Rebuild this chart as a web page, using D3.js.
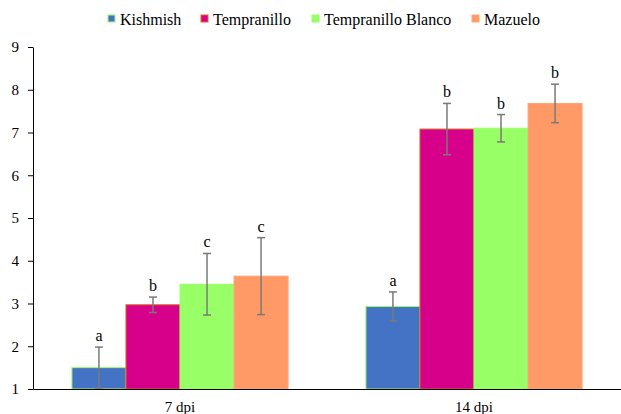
<!DOCTYPE html>
<html>
<head>
<meta charset="utf-8">
<script src="https://cdn.jsdelivr.net/npm/d3@7"></script>
<style>
  html, body { margin: 0; padding: 0; background: #fff; }
  svg { display: block; }
</style>
</head>
<body>
<svg id="chart" width="621" height="414"></svg>
<script>
// Time points and cultivars
const categories = ["7 dpi", "14 dpi"];
const series = ["Kishmish", "Tempranillo", "Tempranillo Blanco", "Mazuelo"];
// Mean values per cultivar, one entry per time point
const kishmish = [1.5, 2.93];
const tempranillo = [2.97, 7.08];
const tempranilloBlanco = [3.45, 7.1];
const mazuelo = [3.64, 7.68];
// Error bar half-widths
const kishmishErr = [0.48, 0.34];
const tempranilloErr = [0.18, 0.6];
const tempranilloBlancoErr = [0.72, 0.32];
const mazueloErr = [0.9, 0.45];
// Significance letters
const kishmishLetters = ["a", "a"];
const tempranilloLetters = ["b", "b"];
const tempranilloBlancoLetters = ["c", "b"];
const mazueloLetters = ["c", "b"];
const yTicks = [1, 2, 3, 4, 5, 6, 7, 8, 9];

const fills = ["#4472c4", "#d6008b", "#99ff66", "#ff9966"];
const strokes = ["#99ff66", "#e0661e", "#99ff66", "#ffa57a"];
const serif = "'Liberation Serif', 'Times New Roman', serif";

const values = [kishmish, tempranillo, tempranilloBlanco, mazuelo];
const errs = [kishmishErr, tempranilloErr, tempranilloBlancoErr, mazueloErr];
const letters = [kishmishLetters, tempranilloLetters, tempranilloBlancoLetters, mazueloLetters];

const rows = [];
categories.forEach((c, ci) => {
  series.forEach((s, si) => {
    rows.push({cat: c, ser: s, si, v: values[si][ci], e: errs[si][ci], l: letters[si][ci]});
  });
});

const svg = d3.select("#chart");
const margin = {left: 33, right: 0, top: 47, bottom: 25};
const W = 621, H = 414;

const x0 = d3.scaleBand().domain(categories).range([margin.left, W - margin.right]).paddingInner(0).paddingOuter(0);
const x1 = d3.scaleBand().domain(series).range([0, x0.bandwidth()]).paddingOuter(0.72).paddingInner(0);
const y = d3.scaleLinear().domain([1, 9]).range([H - margin.bottom, margin.top]);

// Bars
const g = svg.append("g");
g.selectAll("rect.bar").data(rows).join("rect")
  .attr("class", "bar")
  .attr("x", d => x0(d.cat) + x1(d.ser))
  .attr("y", d => y(d.v))
  .attr("width", x1.bandwidth())
  .attr("height", d => y(1) - y(d.v))
  .attr("fill", d => fills[d.si])
  .attr("stroke", d => strokes[d.si])
  .attr("stroke-width", 1);

// Error bars
const eb = g.selectAll("g.err").data(rows).join("g").attr("class", "err")
  .attr("stroke", "#7a7a7a").attr("stroke-width", 1.5);
const cx = d => x0(d.cat) + x1(d.ser) + x1.bandwidth() / 2;
eb.append("line")
  .attr("x1", cx).attr("x2", cx)
  .attr("y1", d => y(d.v + d.e)).attr("y2", d => y(d.v - d.e));
eb.append("line")
  .attr("x1", d => cx(d) - 4).attr("x2", d => cx(d) + 4)
  .attr("y1", d => y(d.v + d.e)).attr("y2", d => y(d.v + d.e));
eb.append("line")
  .attr("x1", d => cx(d) - 4).attr("x2", d => cx(d) + 4)
  .attr("y1", d => y(d.v - d.e)).attr("y2", d => y(d.v - d.e));

// Letters above error bars
g.selectAll("text.letter").data(rows).join("text")
  .attr("class", "letter")
  .attr("x", cx)
  .attr("y", d => y(d.v + d.e) - 6)
  .attr("text-anchor", "middle")
  .style("font-family", serif)
  .style("font-size", "16px")
  .attr("fill", "#000")
  .text(d => d.l);

// Y axis
const yAxis = svg.append("g")
  .attr("transform", `translate(${margin.left},0)`)
  .call(d3.axisLeft(y).tickValues(yTicks).tickFormat(d3.format("d")).tickSize(5).tickSizeOuter(0));
yAxis.select(".domain").attr("stroke", "#000").attr("stroke-width", 1);
yAxis.selectAll(".tick line").attr("stroke", "#000");
yAxis.selectAll(".tick text").attr("fill", "#000").attr("x", -14)
  .style("font-family", serif).style("font-size", "15px");

// X axis
const xAxis = svg.append("g")
  .attr("transform", `translate(0,${y(1)})`)
  .call(d3.axisBottom(x0).tickSize(0).tickSizeOuter(0));
xAxis.select(".domain").attr("stroke", "#000").attr("stroke-width", 1.2);
xAxis.selectAll(".tick text").attr("fill", "#000").attr("dy", "1.3em")
  .style("font-family", serif).style("font-size", "15px");

// Legend
const legendX = [108, 201, 312, 472];
const lg = svg.append("g");
series.forEach((s, i) => {
  lg.append("rect").attr("x", legendX[i]).attr("y", 15).attr("width", 7).attr("height", 7)
    .attr("fill", fills[i]).attr("stroke", strokes[i]).attr("stroke-width", 1);
  lg.append("text").attr("x", legendX[i] + 12).attr("y", 25)
    .style("font-family", serif).style("font-size", "16px")
    .attr("fill", "#000").text(s);
});
</script>
</body>
</html>
